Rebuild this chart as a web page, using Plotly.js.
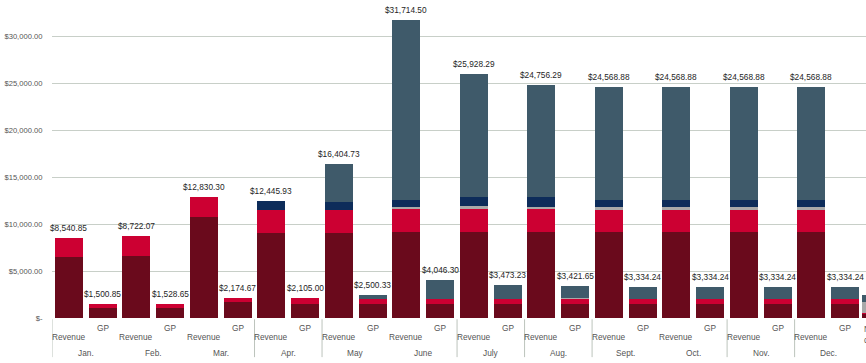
<!DOCTYPE html>
<html>
<head>
<meta charset="utf-8">
<script src="https://cdn.plot.ly/plotly-3.0.1.min.js"></script>
<style>html,body{margin:0;padding:0;overflow:hidden;background:#fff}</style>
</head>
<body>
<div id="chart" style="width:866px;height:363px"></div>
<script>
// ---------- data ----------
const months = ['Jan.','Feb.','Mar.','Apr.','May','June','July','Aug.','Sept.','Oct.','Nov.','Dec.'];
const kinds = ['Revenue','GP'];
// bar totals in order Jan Revenue, Jan GP, Feb Revenue, ...
const totals = [8540.85,1500.85, 8722.07,1528.65, 12830.30,2174.67, 12445.93,2105.00,
                16404.73,2500.33, 31714.50,4046.30, 25928.29,3473.23, 24756.29,3421.65,
                24568.88,3334.24, 24568.88,3334.24, 24568.88,3334.24, 24568.88,3334.24];
// stacked segments (bottom to top)
const segA = [6450,1060, 6570,1080, 10700,1700, 9000,1480, 9000,1480, 9100,1480, 9100,1480, 9100,1480,
              9140,1480, 9140,1480, 9140,1480, 9140,1480];
const segB = [2090.85,440.85, 2152.07,448.65, 2130.30,474.67, 2515,625, 2440,500, 2450,500, 2450,500, 2450,500,
              2370,500, 2370,500, 2370,500, 2370,500];
const segC = [0,0, 0,0, 0,0, 0,0, 0,0, 250,0, 390,50, 230,170, 280,0, 280,0, 280,0, 280,0];
const segD = [0,0, 0,0, 0,0, 0,0, 0,0, 0,60, 0,0, 40,0, 50,0, 50,0, 50,0, 50,0];
const segE = [0,0, 0,0, 0,0, 930.93,0, 850,40, 800,20, 910,40, 1030,0, 760,50, 760,50, 760,50, 760,50];
const segF = [0,0, 0,0, 0,0, 0,0, 4114.73,480.33, 19114.50,1986.30, 13078.29,1403.23, 11906.29,1271.65,
              11968.88,1304.24, 11968.88,1304.24, 11968.88,1304.24, 11968.88,1304.24];
// partially visible item at the right edge
const extraLabel = 'Net<br>cost';
const extraSegs = [400, 160, 1170, 0, 0, 710];
const yTickVals = [0,5000,10000,15000,20000,25000,30000];
const yTickText = ['$-','$5,000.00','$10,000.00','$15,000.00','$20,000.00','$25,000.00','$30,000.00'];
const dividerAfter = [-1, 5, 7, 11, 13, 15, 19, 21]; // category index before each visible divider

// ---------- build ----------
const FONT = 'Liberation Sans, Arial, sans-serif';
const ids = [], kindOf = [];
months.forEach(m => kinds.forEach(k => { ids.push(m + ' ' + k); kindOf.push(k); }));
const extraId = 'extra';
const colors = ['#6a0a1c','#cc0032','#a9a9a9','#f2b100','#0d2c5a','#3f5a6a'];
const segs = [segA, segB, segC, segD, segE, segF];
const names = ['Segment 1','Segment 2','Segment 3','Segment 4','Segment 5','Segment 6'];

const traces = segs.map((s, i) => ({
  type: 'bar', x: ids, y: s, name: names[i],
  marker: {color: colors[i], line: {width: 0}}, hoverinfo: 'skip', showlegend: false
}));
segs.forEach((s, i) => traces.push({
  type: 'bar', x: [extraId], y: [extraSegs[i]], offset: -0.5, width: 0.83,
  marker: {color: colors[i], line: {width: 0}}, hoverinfo: 'skip', showlegend: false
}));

const fmt = v => '$' + v.toLocaleString('en-US', {minimumFractionDigits: 2, maximumFractionDigits: 2});
const annotations = [];
ids.forEach((id, i) => {
  annotations.push({x: id, y: totals[i], xref: 'x', yref: 'y', text: fmt(totals[i]), showarrow: false,
    yanchor: 'bottom', yshift: 3, font: {family: FONT, size: 8.3, color: '#1e1e1e'}});
  annotations.push({x: id, y: 0, xref: 'x', yref: 'paper', text: kindOf[i], showarrow: false,
    yanchor: 'middle', yshift: kindOf[i] === 'GP' ? -9.5 : -19, font: {family: FONT, size: 8.3, color: '#555'}});
});
months.forEach((m, j) => {
  annotations.push({x: 2 * j + 0.5, y: 0, xref: 'x', yref: 'paper', text: m, showarrow: false,
    yanchor: 'middle', yshift: -34.5, font: {family: FONT, size: 8.3, color: '#555'}});
});
annotations.push({x: 23.5, y: 0, xref: 'x', yref: 'paper', text: extraLabel, showarrow: false,
  xanchor: 'left', yanchor: 'top', yshift: -4, align: 'left', font: {family: FONT, size: 8.3, color: '#555'}});

const shapes = dividerAfter.map(k => ({
  type: 'line', xref: 'x', yref: 'paper', x0: k + 0.5, x1: k + 0.5, y0: -0.004, y1: -0.125,
  line: {color: '#bcc4bc', width: 1}
}));

const layout = {
  width: 866, height: 363,
  margin: {l: 52, r: 0, t: 5, b: 45},
  paper_bgcolor: '#fff', plot_bgcolor: '#fff',
  barmode: 'stack', bargap: 0.17,
  showlegend: false,
  xaxis: {type: 'category', categoryorder: 'array', categoryarray: ids.concat([extraId]),
    range: [-0.5, 23.615], showticklabels: false, showgrid: false, zeroline: false, ticks: ''},
  yaxis: {range: [0, 33300], tickvals: yTickVals, ticktext: yTickText, showgrid: true,
    gridcolor: '#c8cfc8', gridwidth: 1, zeroline: false, ticks: 'outside', ticklen: 7,
    tickcolor: 'rgba(0,0,0,0)', tickfont: {family: FONT, size: 7.6, color: '#555'}, showline: false},
  annotations: annotations,
  shapes: shapes
};
Plotly.newPlot('chart', traces, layout, {displayModeBar: false, staticPlot: true});
</script>
</body>
</html>
